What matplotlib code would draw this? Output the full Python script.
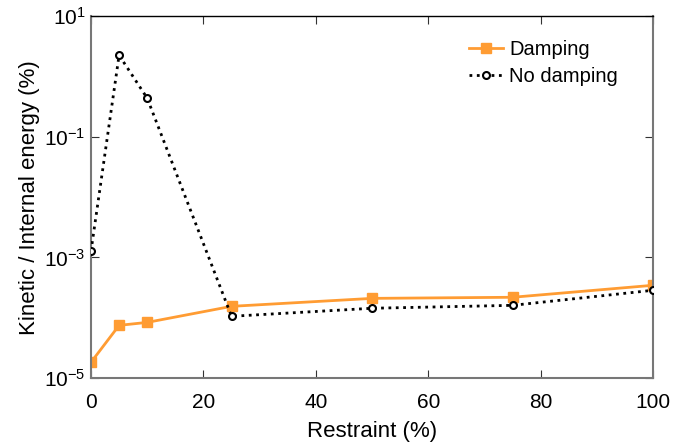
import matplotlib
matplotlib.use("Agg")
import matplotlib.pyplot as plt

plt.rcParams['font.family'] = ['Liberation Sans', 'DejaVu Sans']
plt.rcParams['mathtext.fontset'] = 'custom'
plt.rcParams['mathtext.rm'] = 'Liberation Sans'
plt.rcParams['mathtext.it'] = 'Liberation Sans'
plt.rcParams['axes.unicode_minus'] = False

restraint = [0, 5, 10, 25, 50, 75, 100]
damping = [1.83e-5, 7.5e-5, 8.4e-5, 1.55e-4, 2.1e-4, 2.19e-4, 3.46e-4]
no_damping = [1.27e-3, 2.25, 0.436, 1.06e-4, 1.44e-4, 1.61e-4, 2.86e-4]

fig = plt.figure(figsize=(6.74, 4.47), dpi=100)
ax = fig.add_axes([0.135, 0.154, 0.834, 0.810])

ax.plot(restraint, damping, '-s', color='#FF9C33', lw=2, ms=7.5,
        label='Damping', zorder=2)
ax.plot(restraint, no_damping, ':o', color='black', lw=2, ms=5,
        mfc='white', mew=1.5, label='No damping', zorder=3)

ax.set_yscale('log')
ax.set_xlim(0, 100)
ax.set_ylim(1e-5, 10)
ax.set_xticks([0, 20, 40, 60, 80, 100])
ax.set_yticks([1e-5, 1e-3, 1e-1, 1e1])
ax.set_yticklabels([r'$10^{-5}$', r'$10^{-3}$', r'$10^{-1}$', r'$10^{1}$'])
ax.minorticks_off()
ax.tick_params(direction='in', top=True, right=True, labelsize=15,
               length=6, color='#333333')
ax.tick_params(axis='x', pad=11)
ax.tick_params(axis='y', pad=4)

for side in ['left', 'right', 'bottom']:
    ax.spines[side].set_color('#777777')
    ax.spines[side].set_linewidth(1.5)
ax.spines['top'].set_color('black')
ax.spines['top'].set_linewidth(1)

ax.set_xlabel('Restraint (%)', fontsize=16, labelpad=6)
ax.set_ylabel('Kinetic / Internal energy (%)', fontsize=16, labelpad=3)

leg = ax.legend(loc='upper right', frameon=False, fontsize=14.5,
                bbox_to_anchor=(0.97, 0.985), handlelength=1.7,
                handletextpad=0.3, labelspacing=0.4)

fig.savefig('out.png', dpi=100)
